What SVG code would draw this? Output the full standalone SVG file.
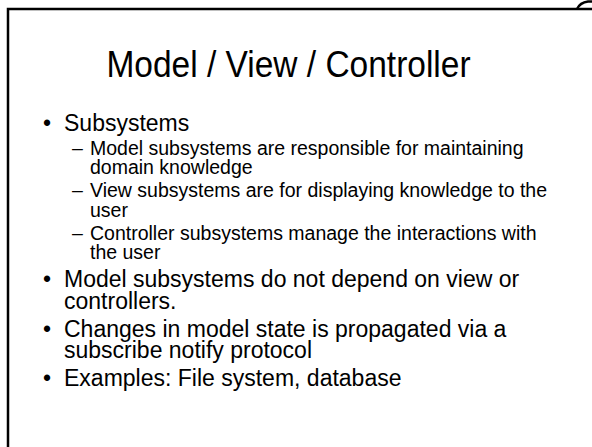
<svg xmlns="http://www.w3.org/2000/svg" width="592" height="447" viewBox="0 0 592 447">
<style>
text{font-family:"Liberation Sans",Arial,sans-serif;fill:#000}
.t{font-size:33.5px}
.l1{font-size:23px}
.l2{font-size:19.5px}
.frame{stroke:#000;stroke-width:2.5;fill:none}
</style>
<rect width="592" height="447" fill="#fff"/>
<g id="frame">
<path class="frame" d="M8,447 V9 H592"/>
<path class="frame" d="M577,9 Q580,2.5 588,1.5 L592,1.5"/>
</g>
<g id="title"><text class="t" transform="translate(288.5,76.5) scale(1,1.1)" x="0" y="0" text-anchor="middle">Model / View / Controller</text></g>
<g id="body">
<text class="l1" x="43" y="131">•</text><text class="l1" x="64" y="131">Subsystems</text>
<text class="l2" x="72" y="155">–</text><text class="l2" x="90" y="155">Model subsystems are responsible for maintaining</text>
<text class="l2" x="90" y="174">domain knowledge</text>
<text class="l2" x="72" y="197">–</text><text class="l2" x="90" y="197">View subsystems are for displaying knowledge to the</text>
<text class="l2" x="90" y="217">user</text>
<text class="l2" x="72" y="240">–</text><text class="l2" x="90" y="240">Controller subsystems manage the interactions with</text>
<text class="l2" x="90" y="259">the user</text>
<text class="l1" x="43" y="287">•</text><text class="l1" x="64" y="287">Model subsystems do not depend on view or</text>
<text class="l1" x="64" y="309">controllers.</text>
<text class="l1" x="43" y="337">•</text><text class="l1" x="64" y="337">Changes in model state is propagated via a</text>
<text class="l1" x="64" y="358">subscribe notify protocol</text>
<text class="l1" x="43" y="386">•</text><text class="l1" x="64" y="386">Examples: File system, database</text>
</g>
</svg>
